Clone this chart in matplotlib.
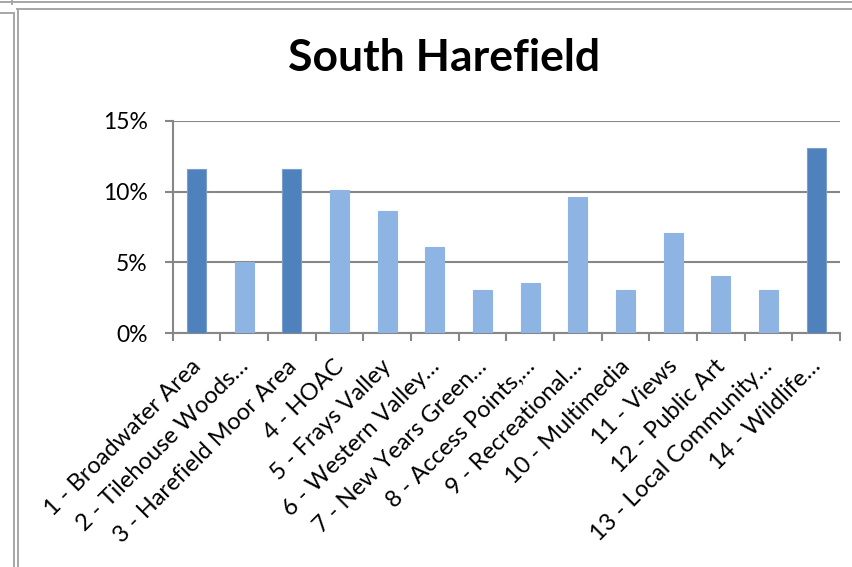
import matplotlib.pyplot as plt
from matplotlib.lines import Line2D
from matplotlib.ticker import PercentFormatter

# values (percent of responses)
areas = [
    "1 - Broadwater Area",
    "2 - Tilehouse Woods\u2026",
    "3 - Harefield Moor Area",
    "4 - HOAC",
    "5 - Frays Valley",
    "6 - Western Valley\u2026",
    "7 - New Years Green\u2026",
    "8 - Access Points,\u2026",
    "9 - Recreational\u2026",
    "10 - Multimedia",
    "11 - Views",
    "12 - Public Art",
    "13 - Local Community\u2026",
    "14 - Wildlife\u2026",
]
shares = [11.6, 5.05, 11.6, 10.1, 8.6, 6.06, 3.03, 3.54, 9.6, 3.03, 7.07, 4.04, 3.03, 13.1]
highlight = [True, False, True, False, False, False, False, False, False, False, False, False, False, True]
yticks = [0, 5, 10, 15]

dark = "#4F81BD"
light = "#8EB4E3"
grid_col = "#878787"

plt.rcParams["font.family"] = ["Lato", "DejaVu Sans"]

fig = plt.figure(figsize=(8.52, 5.67), dpi=100)
ax = fig.add_axes([0.2027, 0.4122, 0.7832, 0.3749])

x = list(range(len(areas)))
colors = [dark if h else light for h in highlight]
edges = ["#7A9FCF" if h else light for h in highlight]
ax.bar(x, shares, width=0.4, color=colors, edgecolor=edges, linewidth=0.8, zorder=3)

ax.set_xlim(-0.5, len(areas) - 0.5)
ax.set_ylim(0, 15)
ax.set_yticks(yticks)
ax.yaxis.set_major_formatter(PercentFormatter(decimals=0))
ax.grid(axis="y", color=grid_col, linewidth=1.5, zorder=1)

for side in ["top", "right"]:
    ax.spines[side].set_visible(False)
ax.spines["left"].set_color(grid_col)
ax.spines["bottom"].set_color(grid_col)
ax.spines["left"].set_linewidth(1.5)
ax.spines["bottom"].set_linewidth(1.5)

ax.tick_params(axis="y", length=6, width=1.5, color=grid_col, labelsize=16.5, pad=12)
# category boundaries carry the tick marks
ax.set_xticks([i - 0.5 for i in range(len(areas) + 1)])
ax.set_xticklabels([])
ax.tick_params(axis="x", length=6, width=1.5, color=grid_col)

for i, name in enumerate(areas):
    ax.text(i + 0.02, -2.1, name, rotation=45, ha="right", va="center",
            rotation_mode="anchor", fontsize=17)

fig.text(0.5217, 0.897, "South Harefield", ha="center", va="center",
         fontsize=32, fontweight="bold")

# window border lines
frame = "#A6A6A6"
W, H = 852.0, 567.0
segs = [
    ((0, 11), (2, 2)), ((14, W), (2, 2)), ((12, 12), (0, 4)),
    ((17, W), (8.5, 8.5)), ((0, 14), (12.5, 12.5)),
    ((14, 14), (12.5, H)), ((17.5, 17.5), (8.5, H)),
]
for xs, ys in segs:
    fig.add_artist(Line2D([v / W for v in xs], [1 - v / H for v in ys],
                          color=frame, linewidth=1.4))

fig.savefig("out.png", dpi=100)
